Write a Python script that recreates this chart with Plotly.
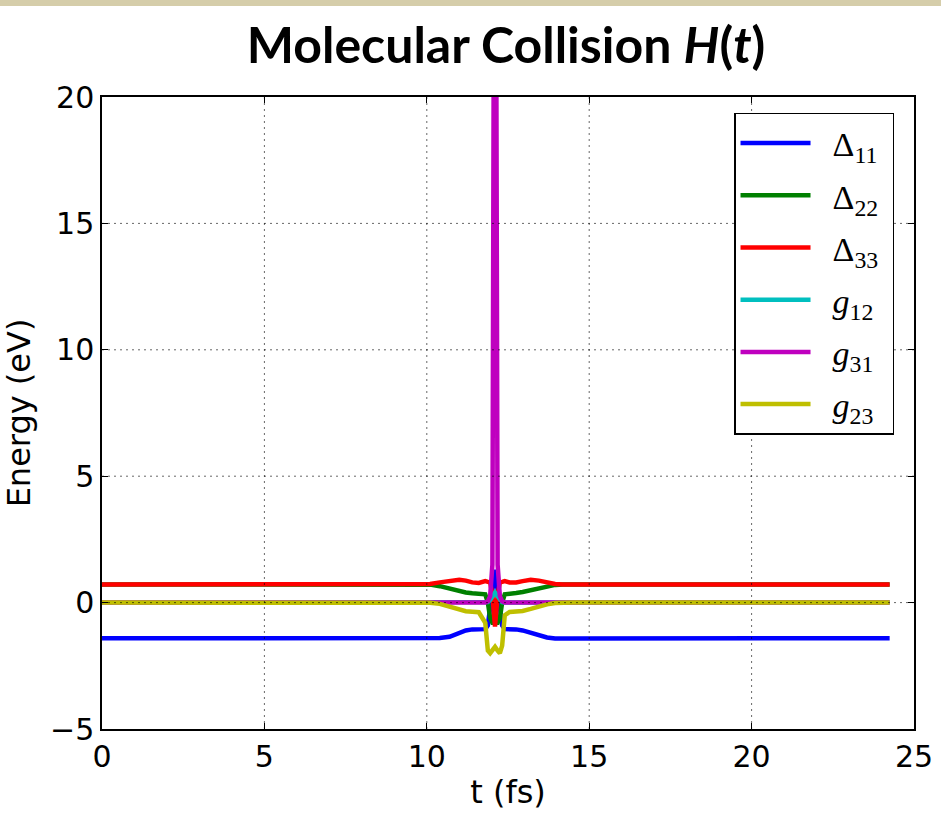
import plotly.graph_objects as go

# time axis (fs)
t_fs = [0.0, 9.8, 10.1, 10.4, 10.7, 11.0, 11.2, 11.4, 11.6, 11.8, 11.88, 11.95, 12.02, 12.1,
        12.18, 12.25, 12.32, 12.4, 12.55, 12.75, 12.95, 13.2, 13.45, 13.7, 13.95, 14.2, 14.5, 24.25]

delta11 = [-1.41, -1.41, -1.41, -1.40, -1.35, -1.20, -1.10, -1.06, -1.05, -1.05, -0.90, -0.30, 0.50, 1.30,
           0.50, -0.30, -0.90, -1.05, -1.05, -1.06, -1.10, -1.20, -1.30, -1.38, -1.42, -1.43, -1.42, -1.41]
delta22 = [0.72, 0.72, 0.71, 0.65, 0.55, 0.45, 0.40, 0.37, 0.36, 0.33, 0.00, -0.60, -0.80, -0.80,
           -0.80, -0.60, 0.00, 0.33, 0.37, 0.38, 0.42, 0.50, 0.58, 0.65, 0.70, 0.72, 0.72, 0.72]
delta33 = [0.72, 0.72, 0.74, 0.80, 0.87, 0.90, 0.87, 0.80, 0.78, 0.85, 0.82, 0.80, 0.30, -0.95,
           0.30, 0.80, 0.82, 0.85, 0.80, 0.80, 0.85, 0.90, 0.87, 0.80, 0.74, 0.72, 0.72, 0.72]
g12 = [0.0, 0.0, 0.0, 0.0, 0.0, 0.0, 0.0, 0.0, 0.0, 0.0, 0.02, 0.10, 0.25, 0.40,
       0.25, 0.10, 0.02, 0.0, 0.0, 0.0, 0.0, 0.0, 0.0, 0.0, 0.0, 0.0, 0.0, 0.0]
g31 = [0.0, 0.0, 0.0, 0.0, 0.0, 0.0, 0.0, 0.0, 0.0, 0.0, 0.05, 0.25, 1.5, 42.0,
       1.5, 0.25, 0.05, 0.0, 0.0, 0.0, 0.0, 0.0, 0.0, 0.0, 0.0, 0.0, 0.0, 0.0]
g23 = [0.0, 0.0, -0.01, -0.05, -0.15, -0.28, -0.34, -0.36, -0.38, -0.80, -1.90, -2.00, -1.90, -1.75,
       -1.90, -2.00, -1.70, -0.50, -0.37, -0.36, -0.33, -0.25, -0.15, -0.07, -0.02, 0.0, 0.0, 0.0]

series_names = ["Δ<sub>11</sub>", "Δ<sub>22</sub>", "Δ<sub>33</sub>",
                "<i>g</i><sub>12</sub>", "<i>g</i><sub>31</sub>", "<i>g</i><sub>23</sub>"]
series_values = [delta11, delta22, delta33, g12, g31, g23]
series_colors = ["#0000ff", "#008000", "#ff0000", "#00bfbf", "#bf00bf", "#bfbf00"]

x_ticks = [0, 5, 10, 15, 20, 25]
y_ticks = [-5, 0, 5, 10, 15, 20]

PAD = "\u00a0\u00a0"

fig = go.Figure()
for name, vals, color in zip(series_names, series_values, series_colors):
    fig.add_trace(go.Scatter(x=t_fs, y=vals, mode="lines", name=PAD + name + "\u00a0",
                             legendgroup=name, line=dict(color=color, width=4.5)))

# dotted grid drawn above the traces (matplotlib classic style)
grid_style = dict(color="rgba(0,0,0,0.6)", width=1, dash="2px,4px")
for xv in x_ticks[1:-1]:
    fig.add_shape(type="line", xref="x", yref="paper", x0=xv, x1=xv, y0=0, y1=1,
                  line=grid_style, layer="above")
for yv in y_ticks[1:-1]:
    fig.add_shape(type="line", xref="paper", yref="y", x0=0, x1=1, y0=yv, y1=yv,
                  line=grid_style, layer="above")

# tan band at the very top of the slide
fig.add_shape(type="rect", xref="paper", yref="paper",
              x0=-102 / 812, x1=1 + 27 / 812, y0=1 + 91 / 632, y1=1 + 97 / 632,
              fillcolor="#d5cdaa", line=dict(width=0), layer="above")

axis_common = dict(
    showline=True, linecolor="black", linewidth=1.5, mirror="ticks",
    ticks="inside", ticklen=6, tickwidth=1, tickcolor="black",
    showgrid=False, zeroline=False, automargin=False,
    tickfont=dict(family="DejaVu Sans", size=30, color="black"),
)

fig.update_layout(
    width=941, height=821, autosize=False,
    paper_bgcolor="white", plot_bgcolor="white",
    margin=dict(l=102, r=27, t=97, b=92, autoexpand=False),
    title=dict(text="<b>Molecular Collision <i>H</i>(<i>t</i>)</b>",
               font=dict(family="Lato", size=50, color="black"),
               x=506 / 941, xref="container", xanchor="center",
               y=1 - 45 / 821, yref="container", yanchor="middle", automargin=False),
    xaxis=dict(range=[0, 25], tickvals=x_ticks,
               ticktext=[str(v) for v in x_ticks],
               title=dict(text="t (fs)", font=dict(family="DejaVu Sans", size=32, color="black"),
                          standoff=8),
               **axis_common),
    yaxis=dict(range=[-5, 20], tickvals=y_ticks,
               ticktext=["\u22125" if v < 0 else str(v) for v in y_ticks],
               title=dict(text="Energy (eV)", font=dict(family="DejaVu Sans", size=32, color="black"),
                          standoff=10),
               **axis_common),
    legend=dict(x=0.9754, y=0.9747, xanchor="right", yanchor="top",
                bgcolor="white", bordercolor="black", borderwidth=1.5,
                font=dict(family="Liberation Serif", size=34, color="black"),
                tracegroupgap=5, itemwidth=70, traceorder="grouped"),
    showlegend=True,
)

fig.write_html("out.html", config={"displayModeBar": False},
               post_script="document.body.style.margin='0';document.body.style.padding='0';")
